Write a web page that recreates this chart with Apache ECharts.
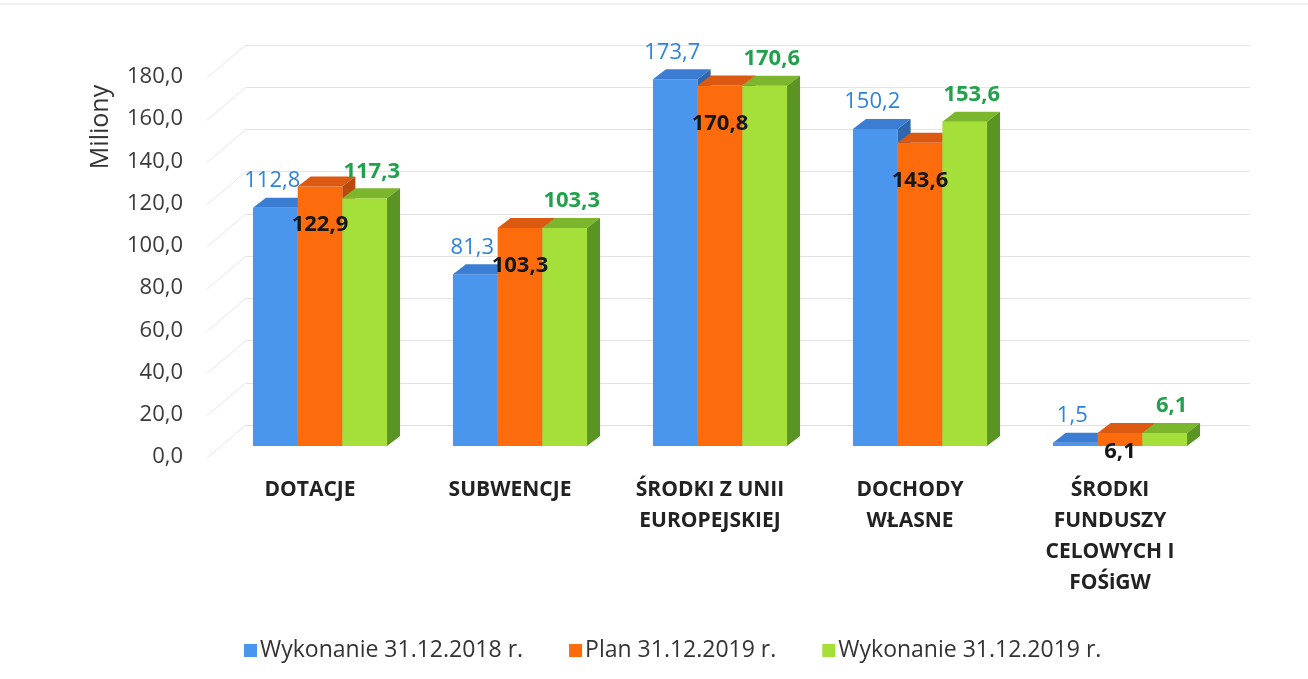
<!DOCTYPE html>
<html>
<head>
<meta charset="utf-8">
<script src="https://cdn.jsdelivr.net/npm/echarts@6/dist/echarts.min.js"></script>
<style>
html,body{margin:0;padding:0;background:#fff;}
#chart{width:1308px;height:679px;}
</style>
</head>
<body>
<div id="chart"></div>
<script>
// ---- data ----
const categories = ['DOTACJE', 'SUBWENCJE', 'ŚRODKI Z UNII\nEUROPEJSKIEJ', 'DOCHODY\nWŁASNE', 'ŚRODKI\nFUNDUSZY\nCELOWYCH I\nFOŚiGW'];
const seriesNames = ['Wykonanie 31.12.2018 r.', 'Plan 31.12.2019 r.', 'Wykonanie 31.12.2019 r.'];
const wykonanie2018 = [112.8, 81.3, 173.7, 150.2, 1.5];
const plan2019 = [122.9, 103.3, 170.8, 143.6, 6.1];
const wykonanie2019 = [117.3, 103.3, 170.6, 153.6, 6.1];
const yMin = 0, yMax = 180, yInterval = 20;
const yTickValues = [0, 20, 40, 60, 80, 100, 120, 140, 160, 180];

// ---- styling ----
const palettes = [
  { front: '#4a95ee', top: '#3b7dd2', side: '#2f66ae', label: '#2c84dc', weight: 'normal' },
  { front: '#fd6c0c', top: '#dc5912', side: '#b84a0c', label: '#161616', weight: 'bold' },
  { front: '#a5df3a', top: '#7cb62d', side: '#5a9423', label: '#1fa24a', weight: 'bold' }
];
const FRONT_DX = 10, FRONT_DY = -11;  // front face offset from axis projection
const DEPTH_DX = 13, DEPTH_DY = -10;  // bar depth
const FONT = '"Open Sans", "Liberation Sans", sans-serif';

const allData = [wykonanie2018, plan2019, wykonanie2019];
const fmt = v => v.toFixed(1).replace('.', ',');

function geom(i, api) {
  const k = api.value(0), v = api.value(1);
  const b = api.coord([k, 0]);
  const t = api.coord([k, v]);
  const band = api.size([1, 0])[0];
  const w = band * 0.2235;
  const x0 = b[0] + FRONT_DX - 1.5 * w + i * w;
  return { x0, w, yb: b[1] + FRONT_DY, yt: t[1] + FRONT_DY, v };
}

function barSeries(i) {
  const p = palettes[i];
  return {
    type: 'custom',
    name: seriesNames[i],
    xAxisIndex: 0, yAxisIndex: 0,
    z: 3 + i,
    itemStyle: { color: p.front },
    data: allData[i].map((v, k) => [k, v]),
    renderItem: function (params, api) {
      const g = geom(i, api);
      const { x0, w, yb, yt } = g;
      return {
        type: 'group',
        children: [
          { type: 'rect', shape: { x: x0, y: yt, width: w, height: yb - yt }, style: { fill: p.front } },
          { type: 'polygon', shape: { points: [[x0, yt], [x0 + w, yt], [x0 + w + DEPTH_DX, yt + DEPTH_DY], [x0 + DEPTH_DX, yt + DEPTH_DY]] }, style: { fill: p.top } },
          { type: 'polygon', shape: { points: [[x0 + w, yt], [x0 + w + DEPTH_DX, yt + DEPTH_DY], [x0 + w + DEPTH_DX, yb + DEPTH_DY], [x0 + w, yb]] }, style: { fill: p.side } }
        ]
      };
    }
  };
}

function labelSeries(i) {
  const p = palettes[i];
  return {
    type: 'custom',
    xAxisIndex: 0, yAxisIndex: 0,
    z: 10,
    silent: true,
    data: allData[i].map((v, k) => [k, v]),
    renderItem: function (params, api) {
      const g = geom(i, api);
      let x, y;
      if (i === 0) { x = g.x0 + g.w / 2 - 3; y = g.yt - 27; }
      else if (i === 2) { x = g.x0 + g.w / 2 + 7; y = g.yt - 27; }
      else { x = g.x0 + g.w / 2; y = Math.min(g.yt + 38, g.yb + 6); }
      return {
        type: 'text',
        x: x, y: y,
        style: {
          text: fmt(g.v), fill: p.label,
          font: p.weight + ' 22px ' + FONT,
          align: 'center', verticalAlign: 'middle'
        }
      };
    }
  };
}

const diagSeries = {
  type: 'custom',
  xAxisIndex: 0, yAxisIndex: 0,
  z: 1, silent: true,
  data: yTickValues.map(v => [0, v]),
  renderItem: function (params, api) {
    const cs = params.coordSys;
    const y = api.coord([0, api.value(1)])[1];
    return {
      type: 'line',
      shape: { x1: cs.x - 3, y1: y + 1, x2: cs.x + 36, y2: y - 32 },
      style: { stroke: '#e6e6e6', lineWidth: 1 }
    };
  }
};

const chart = echarts.init(document.getElementById('chart'));
chart.setOption({
  animation: false,
  backgroundColor: '#ffffff',
  legend: {
    data: seriesNames,
    left: 239, top: 634,
    icon: 'rect', itemWidth: 13, itemHeight: 13, itemGap: 46,
    textStyle: { fontFamily: FONT, fontSize: 23, color: '#333', padding: [0, 0, 0, -2] }
  },
  graphic: [
    {
      type: 'text', x: 101, y: 127, rotation: Math.PI / 2,
      style: { text: 'Miliony', font: '25px ' + FONT, fill: '#333', align: 'center', verticalAlign: 'middle' }
    },
    {
      type: 'line', shape: { x1: 0, y1: 4, x2: 1308, y2: 4 }, style: { stroke: '#e2e2e2', lineWidth: 1 }
    }
  ],
  grid: [
    { left: 210, right: 98, top: 77, bottom: 222 },
    { left: 246, right: 58, top: 45, bottom: 254 }
  ],
  xAxis: [
    {
      type: 'category', gridIndex: 0, data: categories,
      axisLine: { show: false }, axisTick: { show: false },
      axisLabel: { margin: 18, fontFamily: FONT, fontWeight: 'bold', fontSize: 21, lineHeight: 31, color: '#222', interval: 0 }
    },
    { type: 'value', gridIndex: 1, show: false, min: 0, max: 1 }
  ],
  yAxis: [
    {
      type: 'value', gridIndex: 0, min: yMin, max: yMax, interval: yInterval,
      axisLine: { show: false }, axisTick: { show: false }, splitLine: { show: false },
      axisLabel: { margin: 27, fontFamily: FONT, fontSize: 22, color: '#3a3a3a', formatter: v => fmt(v) }
    },
    {
      type: 'value', gridIndex: 1, min: yMin, max: yMax, interval: yInterval,
      axisLine: { show: false }, axisTick: { show: false }, axisLabel: { show: false },
      splitLine: { show: true, lineStyle: { color: '#e4e4e4', width: 1 } }
    }
  ],
  series: [
    { type: 'line', xAxisIndex: 1, yAxisIndex: 1, data: [], silent: true },
    diagSeries,
    barSeries(0), barSeries(1), barSeries(2),
    labelSeries(0), labelSeries(1), labelSeries(2)
  ]
});
</script>
</body>
</html>
